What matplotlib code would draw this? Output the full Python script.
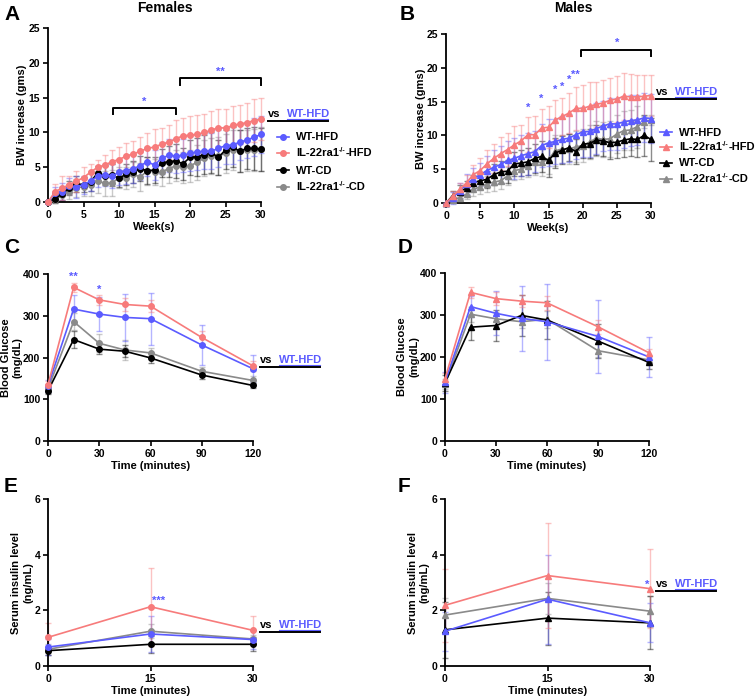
import matplotlib
matplotlib.use('Agg')
import matplotlib.pyplot as plt
from matplotlib.lines import Line2D
import numpy as np

plt.rcParams['font.family'] = ['Liberation Sans', 'DejaVu Sans']
plt.rcParams['font.weight'] = 'bold'
plt.rcParams['axes.labelweight'] = 'bold'

# ---------------- DATA ----------------
groups = ['WT-HFD', 'IL-22ra1-/--HFD', 'WT-CD', 'IL-22ra1-/--CD']
colors = {'WT-HFD': '#5b5bff', 'IL-22ra1-/--HFD': '#f77b7b',
          'WT-CD': '#000000', 'IL-22ra1-/--CD': '#8a8a8a'}

weeks = list(range(0, 31))

# Panel A - Females BW increase
fA_wthfd = [0, 1.3, 1.5, 2.3, 2.2, 2.5, 3.0, 3.7, 3.9, 3.7, 4.3, 4.5, 4.8, 5.2, 5.8, 5.3, 6.3, 6.7, 6.6, 6.7,
            7.0, 7.2, 7.3, 7.3, 7.7, 8.1, 8.2, 8.6, 8.9, 9.3, 9.7]
fA_ilhfd = [0, 1.5, 2.0, 2.5, 3.0, 3.5, 4.3, 5.0, 5.3, 5.8, 6.1, 6.6, 6.9, 7.3, 7.7, 7.9, 8.3, 8.6, 9.1, 9.5,
            9.6, 9.7, 10.0, 10.3, 10.7, 10.6, 11.0, 11.2, 11.4, 11.7, 11.9]
fA_wtcd = [0, 0.5, 1.2, 2.0, 2.6, 2.5, 2.9, 4.2, 3.8, 3.9, 3.4, 4.0, 4.3, 4.8, 4.5, 4.6, 5.6, 5.8, 5.9, 5.5,
           6.4, 6.5, 6.8, 7.1, 6.4, 7.5, 7.9, 7.3, 7.7, 7.7, 7.6]
fA_ilcd = [0, 0.3, 1.0, 1.5, 2.0, 2.2, 2.5, 3.0, 2.7, 2.7, 3.5, 3.5, 4.0, 3.6, 4.5, 4.3, 4.3, 4.8, 5.2, 5.0,
           5.2, 5.7, 6.3, 6.6, 6.6, 7.0, 7.5, 7.3, 7.4, 7.5, 7.6]
fA_wthfd_err = [0, 0.9, 1.2, 1.1, 1.6, 1.3, 1.4, 1.5, 1.6, 1.7, 1.8, 1.9, 2.0, 2.0, 2.1, 2.2, 2.3, 2.4, 2.5, 2.4,
                2.5, 2.6, 2.5, 2.6, 2.6, 2.7, 2.7, 2.6, 2.6, 2.7, 2.6]
fA_ilhfd_err = [0, 1.1, 1.7, 1.3, 1.5, 1.5, 1.2, 1.1, 1.5, 1.6, 1.8, 1.9, 1.8, 2.1, 2.2, 2.6, 2.3, 2.4, 2.7, 2.6,
                2.8, 2.8, 2.6, 2.8, 2.7, 2.8, 2.8, 2.8, 2.8, 3.1, 3.0]
fA_wtcd_err = [0, 0.7, 0.9, 1.0, 1.2, 1.1, 1.3, 1.0, 1.4, 1.6, 1.2, 1.5, 1.6, 1.8, 1.9, 1.9, 2.0, 2.2, 2.4, 2.3,
               2.5, 2.7, 2.8, 2.9, 2.5, 2.8, 2.9, 3.0, 3.0, 3.1, 3.1]
fA_ilcd_err = [0, 0.5, 0.9, 1.1, 1.3, 1.4, 1.6, 1.7, 1.8, 1.9, 1.5, 1.6, 1.8, 2.0, 2.0, 1.9, 2.0, 2.1, 2.2, 2.2,
               2.3, 2.5, 2.6, 2.6, 2.7, 2.8, 2.9, 3.0, 3.0, 3.0, 3.2]

# Panel B - Males BW increase
mB_wthfd = [0, 0.8, 1.8, 2.8, 3.6, 4.2, 4.8, 5.3, 5.7, 6.3, 6.6, 7.0, 7.3, 7.6, 8.5, 8.9, 9.1, 9.4, 9.6, 10.1,
            10.5, 10.6, 11.0, 11.4, 11.7, 11.7, 12.0, 12.2, 12.3, 12.6, 12.5]
mB_ilhfd = [0, 1.0, 2.0, 3.0, 4.2, 4.8, 5.8, 6.6, 7.3, 7.9, 8.6, 9.2, 10.1, 10.1, 11.1, 11.2, 12.3, 12.8, 13.3, 14.0,
            14.0, 14.3, 14.6, 14.8, 15.2, 15.4, 15.8, 15.7, 15.7, 15.8, 15.9]
mB_wtcd = [0, 1.1, 1.7, 2.2, 3.0, 3.3, 3.5, 4.2, 4.6, 4.7, 5.8, 5.9, 6.1, 6.6, 6.9, 6.3, 7.4, 7.8, 8.2, 7.6,
           8.7, 8.8, 9.3, 9.2, 8.9, 9.0, 9.3, 9.5, 9.4, 10.0, 9.4]
mB_ilcd = [0, 0.5, 0.8, 1.3, 2.0, 2.4, 2.8, 3.1, 3.3, 4.0, 4.8, 5.0, 5.5, 6.0, 6.0, 6.5, 7.7, 8.0, 8.0, 8.3,
           8.5, 9.0, 9.6, 9.4, 9.5, 10.2, 10.7, 10.8, 11.3, 12.0, 12.3]
mB_wthfd_err = [0, 0.9, 1.2, 1.5, 1.6, 1.7, 2.2, 2.5, 2.7, 2.8, 3.0, 3.0, 3.1, 3.0, 3.2, 3.5, 3.4, 3.5, 3.5, 3.6,
                3.7, 3.8, 3.8, 3.7, 3.8, 3.8, 3.9, 3.8, 3.7, 3.6, 3.6]
mB_ilhfd_err = [0, 0.8, 1.0, 1.2, 1.4, 1.8, 2.0, 2.2, 2.4, 2.5, 2.8, 2.4, 2.6, 2.7, 2.8, 3.1, 2.9, 2.8, 3.0, 3.2,
                3.4, 3.6, 3.3, 3.4, 3.3, 3.4, 3.5, 3.4, 3.2, 3.2, 3.1]
mB_wtcd_err = [0, 0.7, 0.9, 1.0, 1.1, 1.2, 1.3, 1.5, 1.6, 1.7, 1.8, 1.9, 2.0, 2.1, 2.3, 2.5, 2.2, 2.1, 2.0, 1.9,
               2.0, 2.1, 2.2, 2.3, 2.4, 2.4, 2.5, 2.6, 2.6, 3.0, 3.2]
mB_ilcd_err = [0, 0.5, 0.6, 0.7, 0.9, 1.0, 1.2, 1.3, 1.2, 1.3, 1.4, 1.5, 1.6, 1.8, 2.0, 2.2, 2.3, 2.1, 2.2, 2.3,
               2.4, 2.5, 2.6, 2.6, 2.7, 2.8, 2.9, 3.0, 3.1, 0.9, 0.7]

# Panels C/D - Glucose tolerance
gtt_time = [0, 15, 30, 45, 60, 90, 120]
fC_wthfd = [132, 316, 304, 296, 293, 230, 173]
fC_ilhfd = [135, 368, 338, 327, 323, 248, 180]
fC_wtcd = [120, 243, 220, 215, 199, 158, 133]
fC_ilcd = [125, 286, 234, 218, 211, 167, 145]
fC_wthfd_err = [15, 33, 40, 57, 62, 48, 32]
fC_ilhfd_err = [8, 10, 12, 15, 15, 15, 12]
fC_wtcd_err = [8, 20, 12, 14, 12, 10, 5]
fC_ilcd_err = [10, 20, 22, 25, 12, 10, 10]

mD_wthfd = [140, 320, 304, 292, 284, 249, 200]
mD_ilhfd = [148, 354, 339, 333, 329, 272, 210]
mD_wtcd = [138, 271, 275, 299, 288, 238, 187]
mD_ilcd = [135, 302, 291, 284, 290, 215, 193]
mD_wthfd_err = [25, 25, 52, 77, 90, 86, 48]
mD_ilhfd_err = [15, 13, 15, 15, 17, 17, 10]
mD_wtcd_err = [20, 30, 38, 48, 45, 40, 15]
mD_ilcd_err = [12, 18, 15, 15, 20, 15, 10]

# Panels E/F - Serum insulin
ins_time = [0, 15, 30]
fE_wthfd = [0.68, 1.15, 0.95]
fE_ilhfd = [1.03, 2.13, 1.28]
fE_wtcd = [0.55, 0.78, 0.78]
fE_ilcd = [0.60, 1.25, 0.97]
fE_wthfd_err = [0.30, 0.65, 0.35]
fE_ilhfd_err = [0.50, 1.40, 0.50]
fE_wtcd_err = [0.15, 0.30, 0.25]
fE_ilcd_err = [0.20, 0.25, 0.15]

mF_wthfd = [1.25, 2.40, 1.55]
mF_ilhfd = [2.18, 3.25, 2.78]
mF_wtcd = [1.30, 1.72, 1.55]
mF_ilcd = [1.83, 2.43, 1.97]
mF_wthfd_err = [0.70, 1.60, 0.70]
mF_ilhfd_err = [1.30, 1.88, 1.42]
mF_wtcd_err = [1.00, 0.95, 0.95]
mF_ilcd_err = [0.60, 0.55, 0.55]

# ---------------- FIGURE ----------------
W, H = 756, 698
fig = plt.figure(figsize=(W / 100, H / 100), dpi=100)
renderer = fig.canvas.get_renderer()


def rect(x0, x1, y0, y1):
    return [x0 / W, 1 - y1 / H, (x1 - x0) / W, (y1 - y0) / H]


def fx(x):
    return x / W


def fy(y):
    return 1 - y / H


def style(ax, xlim, ylim, xticks, yticks, xlabel, ylabel, ylab_x):
    ax.set_xlim(*xlim)
    ax.set_ylim(*ylim)
    ax.set_xticks(xticks)
    ax.set_yticks(yticks)
    for s in ['top', 'right']:
        ax.spines[s].set_visible(False)
    for s in ['left', 'bottom']:
        ax.spines[s].set_linewidth(1.3)
    ax.tick_params(width=1.2, length=3.5, labelsize=7.5, pad=2)
    for lab in ax.get_xticklabels() + ax.get_yticklabels():
        lab.set_fontweight('bold')
    ax.set_xlabel(xlabel, fontsize=8, fontweight='bold', labelpad=2)
    ax.set_ylabel(ylabel, fontsize=8, fontweight='bold', linespacing=1.25)
    ax.yaxis.set_label_coords(ylab_x, 0.5)
    ax.patch.set_alpha(0)


def draw(ax, x, series, marker, ms):
    order = [3, 2, 0, 1]
    for i in order:
        m, e = series[i]
        c = colors[groups[i]]
        ax.errorbar(x, m, yerr=e, fmt='none', ecolor=c, alpha=0.45, elinewidth=1.0,
                    capsize=2.5, capthick=1.0, clip_on=False, zorder=2)
    for i in order:
        m, e = series[i]
        c = colors[groups[i]]
        ax.plot(x, m, color=c, marker=marker, ms=ms, lw=1.2, clip_on=False, zorder=3)


def rich(x, ybase, pieces):
    cx = x
    for t, fs, dy, col in pieces:
        tx = fig.text(fx(cx), fy(ybase - dy), t, fontsize=fs, color=col, fontweight='bold',
                      va='baseline', ha='left')
        bb = tx.get_window_extent(renderer=renderer)
        cx += bb.width
    return cx


def vs_label(x0, ybase, size=8):
    fig.text(fx(x0), fy(ybase), 'vs', color='black', fontsize=size, fontweight='bold', va='baseline')
    fig.text(fx(x0 + 19), fy(ybase), 'WT-HFD', color=colors['WT-HFD'], fontsize=size,
             fontweight='bold', va='baseline')
    fig.add_artist(Line2D([fx(x0 + 19), fx(x0 + 60)], [fy(ybase + 1.5), fy(ybase + 1.5)],
                          color=colors['WT-HFD'], lw=0.8))
    fig.add_artist(Line2D([fx(x0), fx(x0 + 60)], [fy(ybase + 4), fy(ybase + 4)],
                          color='black', lw=1.4))


def legend(x_marker, rows, marker, ms):
    for i, g in enumerate(groups):
        y = rows[i]
        fig.add_artist(Line2D([fx(x_marker - 6), fx(x_marker + 6)], [fy(y), fy(y)],
                              color=colors[g], lw=1.2))
        fig.add_artist(Line2D([fx(x_marker)], [fy(y)], color=colors[g], marker=marker, ms=ms, lw=0))
        if '-/-' in g:
            pre, post = g.split('-/-')
            rich(x_marker + 13, y + 3.5, [(pre, 8, 0, 'black'), ('-/-', 5, 4, 'black'),
                                          (post, 8, 0, 'black')])
        else:
            rich(x_marker + 13, y + 3.5, [(g, 8, 0, 'black')])


bl = colors['WT-HFD']

# Panel A
axA = fig.add_axes(rect(48, 261, 28, 202))
style(axA, (0, 30), (0, 25), range(0, 31, 5), range(0, 26, 5), 'Week(s)', 'BW increase (gms)',
      (27 - 48) / 213)
draw(axA, weeks, [(fA_wthfd, fA_wthfd_err), (fA_ilhfd, fA_ilhfd_err), (fA_wtcd, fA_wtcd_err),
                  (fA_ilcd, fA_ilcd_err)], 'o', 4)
axA.plot([9.2, 9.2, 18, 18], [12.6, 13.5, 13.5, 12.6], color='black', lw=1.4, clip_on=False)
axA.text(13.6, 13.7, '*', color=bl, fontsize=8, ha='center', va='bottom')
axA.plot([18.6, 18.6, 30, 30], [16.8, 17.8, 17.8, 16.8], color='black', lw=1.4, clip_on=False)
axA.text(24.3, 18.0, '**', color=bl, fontsize=8, ha='center', va='bottom')
vs_label(268, 117)
legend(283, [137, 153, 170, 187], 'o', 4)

# Panel B
axB = fig.add_axes(rect(446, 651, 34, 203))
style(axB, (0, 30), (0, 25), range(0, 31, 5), range(0, 26, 5), 'Week(s)', 'BW increase (gms)',
      (426 - 446) / 205)
draw(axB, weeks, [(mB_wthfd, mB_wthfd_err), (mB_ilhfd, mB_ilhfd_err), (mB_wtcd, mB_wtcd_err),
                  (mB_ilcd, mB_ilcd_err)], '^', 4)
for wk, yy, s in [(12, 13.3, '*'), (14, 14.6, '*'), (16, 16.0, '*'), (17, 16.5, '*'), (18, 17.5, '*'),
                  (19, 18.2, '**')]:
    axB.text(wk, yy, s, color=bl, fontsize=8, ha='center', va='bottom')
axB.plot([19.8, 19.8, 30, 30], [21.8, 22.7, 22.7, 21.8], color='black', lw=1.4, clip_on=False)
axB.text(25, 22.9, '*', color=bl, fontsize=8, ha='center', va='bottom')
vs_label(656, 95)
legend(666, [132, 147, 163, 179], '^', 4.5)

# Panel C
axC = fig.add_axes(rect(48, 253, 274, 441))
style(axC, (0, 120), (0, 400), range(0, 121, 30), range(0, 401, 100), 'Time (minutes)',
      'Blood Glucose\n(mg/dL)', (23 - 48) / 205)
draw(axC, gtt_time, [(fC_wthfd, fC_wthfd_err), (fC_ilhfd, fC_ilhfd_err), (fC_wtcd, fC_wtcd_err),
                     (fC_ilcd, fC_ilcd_err)], 'o', 4)
axC.text(15, 381, '**', color=bl, fontsize=8, ha='center', va='bottom')
axC.text(30, 351, '*', color=bl, fontsize=8, ha='center', va='bottom')
vs_label(260, 363)

# Panel D
axD = fig.add_axes(rect(445, 649, 273, 441))
style(axD, (0, 120), (0, 400), range(0, 121, 30), range(0, 401, 100), 'Time (minutes)',
      'Blood Glucose\n(mg/dL)', (419 - 445) / 204)
draw(axD, gtt_time, [(mD_wthfd, mD_wthfd_err), (mD_ilhfd, mD_ilhfd_err), (mD_wtcd, mD_wtcd_err),
                     (mD_ilcd, mD_ilcd_err)], '^', 4)

# Panel E
axE = fig.add_axes(rect(48, 253, 499, 666))
style(axE, (0, 30), (0, 6), [0, 15, 30], [0, 2, 4, 6], 'Time (minutes)',
      'Serum insulin level\n(ng/mL)', (33 - 48) / 205)
draw(axE, ins_time, [(fE_wthfd, fE_wthfd_err), (fE_ilhfd, fE_ilhfd_err), (fE_wtcd, fE_wtcd_err),
                     (fE_ilcd, fE_ilcd_err)], 'o', 4)
axE.text(16.2, 2.15, '***', color=bl, fontsize=8, ha='center', va='bottom')
vs_label(260, 628)

# Panel F
axF = fig.add_axes(rect(445, 650, 499, 666))
style(axF, (0, 30), (0, 6), [0, 15, 30], [0, 2, 4, 6], 'Time (minutes)',
      'Serum insulin level\n(ng/mL)', (430 - 445) / 205)
draw(axF, ins_time, [(mF_wthfd, mF_wthfd_err), (mF_ilhfd, mF_ilhfd_err), (mF_wtcd, mF_wtcd_err),
                     (mF_ilcd, mF_ilcd_err)], '^', 4)
axF.text(29.6, 2.75, '*', color=bl, fontsize=8, ha='center', va='bottom')
vs_label(656, 587)

# Titles and panel letters
fig.text(fx(165), fy(8), 'Females', fontsize=10, fontweight='bold', ha='center', va='center')
fig.text(fx(573), fy(8), 'Males', fontsize=10, fontweight='bold', ha='center', va='center')
for letter, x, y in [('A', 4, 14), ('B', 400, 14), ('C', 4, 247), ('D', 398, 247), ('E', 4, 487),
                     ('F', 398, 487)]:
    fig.text(fx(x), fy(y), letter, fontsize=15, fontweight='bold', ha='left', va='center')

fig.savefig('out.png', dpi=100)
